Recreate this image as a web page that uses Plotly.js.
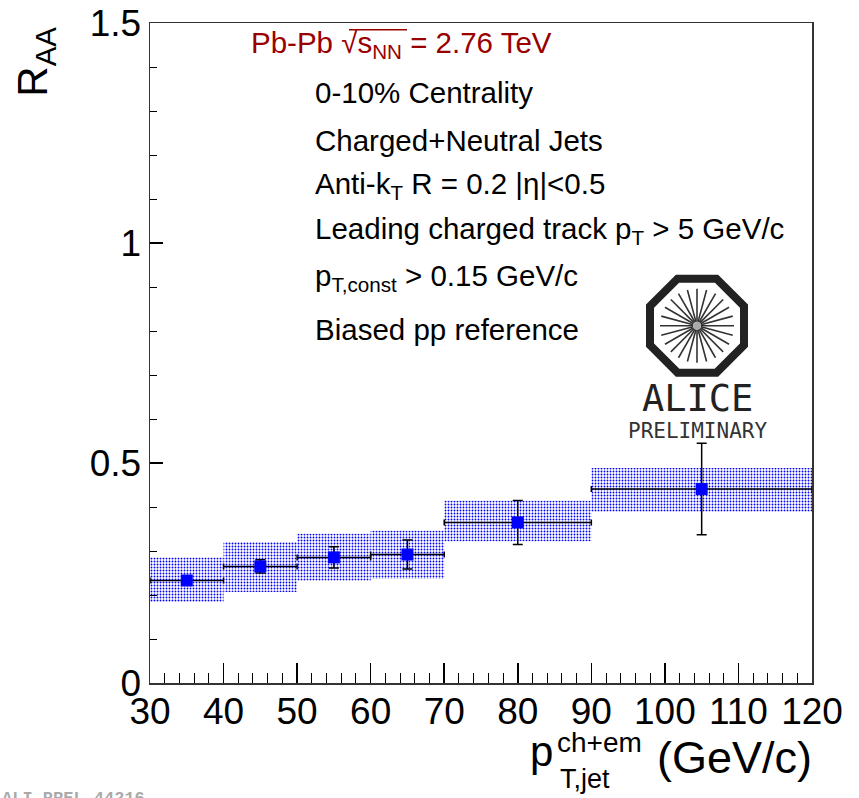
<!DOCTYPE html>
<html>
<head>
<meta charset="utf-8">
<script src="https://cdn.plot.ly/plotly-3.0.1.min.js"></script>
<style>html,body{margin:0;padding:0;background:#fff;}#chart{width:859px;height:798px;}</style>
</head>
<body>
<div id="chart"></div>
<script>
// ---- data ----
const binCenters   = [35, 45, 55, 65, 80, 105];
const binHalfWidth = [5, 5, 5, 5, 10, 15];
const raaValues    = [0.233, 0.265, 0.2855, 0.292, 0.365, 0.441];
const statErrors   = [0.008, 0.015, 0.024, 0.033, 0.050, 0.104];
const sysLow       = [0.184, 0.207, 0.2325, 0.237, 0.322, 0.389];
const sysHigh      = [0.2855, 0.3205, 0.339, 0.346, 0.414, 0.4886];
const xTickVals    = [30, 40, 50, 60, 70, 80, 90, 100, 110, 120];
const yTickVals    = [0, 0.5, 1, 1.5];
const infoLines = [
  "0-10% Centrality",
  "Charged+Neutral Jets",
  "Anti-k<sub>T</sub> R = 0.2 |η|&lt;0.5",
  "Leading charged track p<sub>T</sub> &gt; 5 GeV/c",
  "p<sub>T,const</sub> &gt; 0.15 GeV/c",
  "Biased pp reference"
];

// ---- geometry helpers (pixel -> paper) ----
const L = 150, R = 812, T = 23.3, B = 683.3;
const px = x => (x - L) / (R - L);
const py = y => (B - y) / (B - T);
const FONT = "Liberation Sans, Arial, sans-serif";

const sysBox = {
  type: "bar",
  x: binCenters,
  y: sysHigh.map((h, i) => h - sysLow[i]),
  base: sysLow,
  width: binHalfWidth.map(w => 2 * w),
  marker: {
    color: "white",
    line: {width: 0},
    pattern: {shape: ".", fgcolor: "#0000ff", bgcolor: "white", size: 3, solidity: 0.3}
  },
  hoverinfo: "skip"
};

const points = {
  type: "scatter",
  mode: "markers",
  x: binCenters,
  y: raaValues,
  marker: {symbol: "square", size: 12, color: "#0000ff"},
  error_x: {type: "data", array: binHalfWidth, color: "#000", thickness: 1.5, width: 3},
  error_y: {type: "data", array: statErrors, color: "#000", thickness: 1.5, width: 5}
};

const annotations = [];
// y-axis title
annotations.push({xref: "paper", yref: "paper", x: px(36), y: py(62), xanchor: "center", yanchor: "middle",
  text: "R<sub>AA</sub>", textangle: -90, showarrow: false, font: {family: FONT, size: 42, color: "#000"}});
// x-axis title pieces
annotations.push({xref: "paper", yref: "paper", x: px(528), y: py(752), xanchor: "left", yanchor: "middle",
  text: "p", showarrow: false, font: {family: FONT, size: 42, color: "#000"}});
annotations.push({xref: "paper", yref: "paper", x: px(555), y: py(743), xanchor: "left", yanchor: "middle",
  text: "ch+em", showarrow: false, font: {family: FONT, size: 28, color: "#000"}});
annotations.push({xref: "paper", yref: "paper", x: px(558), y: py(779), xanchor: "left", yanchor: "middle",
  text: "T,jet", showarrow: false, font: {family: FONT, size: 27, color: "#000"}});
annotations.push({xref: "paper", yref: "paper", x: px(814), y: py(758), xanchor: "right", yanchor: "middle",
  text: "(GeV/c)", showarrow: false, font: {family: FONT, size: 45, color: "#000"}});
// collision system
annotations.push({xref: "paper", yref: "paper", x: px(249), y: py(45), xanchor: "left", yanchor: "middle",
  text: "Pb-Pb √s<sub>NN</sub> = 2.76 TeV", showarrow: false, font: {family: FONT, size: 29.5, color: "#990000"}});
// info lines
const lineCenters = [93, 141, 186, 231, 278, 330];
infoLines.forEach((t, i) => {
  annotations.push({xref: "paper", yref: "paper", x: px(313), y: py(lineCenters[i]), xanchor: "left", yanchor: "middle",
    text: t, showarrow: false, font: {family: FONT, size: 29.5, color: "#000"}});
});
// ALICE logo text
annotations.push({xref: "paper", yref: "paper", x: px(697), y: py(399), xanchor: "center", yanchor: "middle",
  text: "ALICE", showarrow: false, font: {family: "DejaVu Sans Mono, monospace", size: 37, color: "#222"}});
annotations.push({xref: "paper", yref: "paper", x: px(697), y: py(431), xanchor: "center", yanchor: "middle",
  text: "PRELIMINARY", showarrow: false, font: {family: "DejaVu Sans Mono, monospace", size: 21, color: "#333"}});
// preliminary id
annotations.push({xref: "paper", yref: "paper", x: px(0), y: py(787), xanchor: "left", yanchor: "top",
  text: "ALI-PREL-44216", showarrow: false, font: {family: "Liberation Mono, monospace", size: 17, color: "#aaa", weight: "bold"}});

// ---- logo shapes ----
const shapes = [];
const cx = 697, cy = 326;
const Rc = 47 / Math.cos(Math.PI / 8);
let d = "";
for (let k = 0; k < 8; k++) {
  const a = Math.PI / 8 + k * Math.PI / 4;
  const vx = cx + Rc * Math.cos(a), vy = cy + Rc * Math.sin(a);
  d += (k === 0 ? "M" : "L") + px(vx) + "," + py(vy) + " ";
}
d += "Z";
shapes.push({type: "path", xref: "paper", yref: "paper", path: d, line: {color: "#222", width: 8}});
for (let k = 0; k < 24; k++) {
  const a = k * Math.PI / 12;
  shapes.push({type: "line", xref: "paper", yref: "paper",
    x0: px(cx + 4 * Math.cos(a)), y0: py(cy + 4 * Math.sin(a)),
    x1: px(cx + 37 * Math.cos(a)), y1: py(cy + 37 * Math.sin(a)),
    line: {color: "#333", width: 1.6}});
}
shapes.push({type: "circle", xref: "paper", yref: "paper", x0: px(cx - 4), x1: px(cx + 4), y0: py(cy + 4), y1: py(cy - 4),
  fillcolor: "#aaa", line: {width: 0}});
// overline of the square root
shapes.push({type: "line", xref: "paper", yref: "paper", x0: px(349), x1: px(407), y0: py(30), y1: py(30),
  line: {color: "#990000", width: 1.5}});

const layout = {
  width: 859, height: 798,
  margin: {l: L, r: 859 - R, t: T, b: 798 - B, pad: 0},
  paper_bgcolor: "white", plot_bgcolor: "white",
  showlegend: false, barmode: "overlay",
  xaxis: {
    range: [30, 120], tickvals: xTickVals, ticks: "inside", ticklen: 20, tickwidth: 1.5, tickcolor: "#000",
    showline: true, linecolor: "#333", linewidth: 1.5, mirror: true, showgrid: false, zeroline: false,
    minor: {dtick: 2, tick0: 30, ticks: "inside", ticklen: 10, tickwidth: 1, tickcolor: "#000", showgrid: false},
    tickfont: {family: FONT, size: 37, color: "#000"}, ticklabelstandoff: -5
  },
  yaxis: {
    range: [0, 1.5], tickvals: yTickVals, ticks: "inside", ticklen: 13, tickwidth: 1.5, tickcolor: "#000",
    showline: true, linecolor: "#333", linewidth: 1.5, mirror: true, showgrid: false, zeroline: false,
    minor: {dtick: 0.1, tick0: 0, ticks: "inside", ticklen: 7, tickwidth: 1, tickcolor: "#000", showgrid: false},
    tickfont: {family: FONT, size: 37, color: "#000"}
  },
  annotations: annotations,
  shapes: shapes
};

Plotly.newPlot("chart", [sysBox, points], layout, {displayModeBar: false, staticPlot: true});
</script>
</body>
</html>
